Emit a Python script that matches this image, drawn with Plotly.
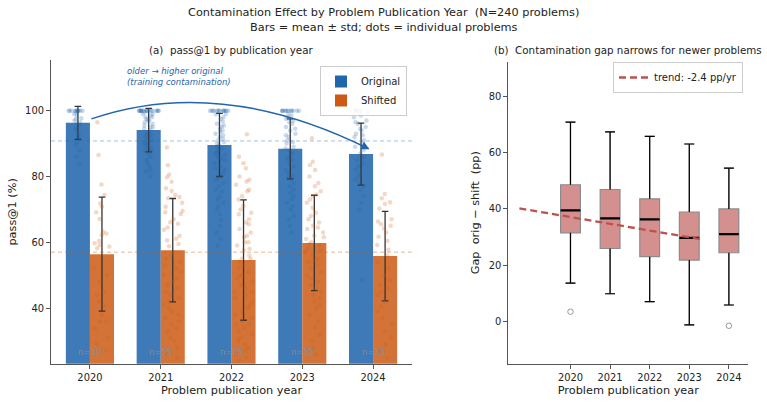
import plotly.graph_objects as go

# ---------------- data ----------------
years = [2020, 2021, 2022, 2023, 2024]
year_labels = ["2020", "2021", "2022", "2023", "2024"]
n_counts = [30, 55, 65, 55, 35]

orig_mean = [96.3, 94.1, 89.6, 88.4, 86.8]
orig_std = [5.0, 6.6, 9.6, 9.1, 9.4]
shift_mean = [56.4, 57.6, 54.6, 59.8, 55.8]
shift_std = [17.3, 15.7, 18.3, 14.5, 13.6]
orig_overall = 90.8
shift_overall = 57.0

orig_2020 = [100] * 11 + [99.5, 99, 98.5, 97.7, 97.5, 97, 96.5, 96, 95.5, 94.6, 94, 93,
                          92.5, 91.5, 90.5, 89.6, 88, 86, 83.7]
orig_2021 = [100] * 18 + [99.5, 99, 99, 98.5, 98, 98, 97.5, 97, 97, 96.5, 96, 95.5, 95, 95,
                          94.5, 94, 93.5, 93, 92.5, 92, 91.5, 91, 90.5, 90, 89.5, 89, 88.5,
                          88, 87.5, 87, 86, 85, 84, 83, 82, 81.5, 80]
orig_2022 = [100] * 14 + [99, 98.9, 98, 97.5, 96.7, 96, 95.5, 95.1, 94.5, 94, 93.5, 93, 92.5,
                          92, 91.5, 91, 90.5, 90, 89.5, 89, 88.5, 88, 87.5, 87, 86.5, 86, 85.5,
                          85, 84, 83, 82.5, 82, 81, 80, 79.5, 79, 78, 77, 76, 75.5, 74, 73, 72,
                          71, 70, 68.5, 66.8, 65, 63, 61, 59]
orig_2023 = [100] * 12 + [99, 98.5, 98, 97.5, 97, 96.5, 96, 95, 94.5, 94, 93, 92.5, 92, 91,
                          90.5, 90, 89, 88.5, 88, 87, 86, 85.5, 85, 84, 83, 82, 81, 80, 79.5,
                          79, 78, 77, 76, 75, 74, 73, 72, 71, 70, 68, 67, 65, 63]
orig_2024 = [100, 100, 100, 99.5, 98.5, 98, 97, 96.5, 96, 95, 94.5, 94, 93, 92.5, 92, 91, 90,
             89, 88, 87, 86, 85, 84, 83, 82, 81, 80, 79, 78, 77, 76, 74, 72, 70, 48.5]

shift_2020 = [96.5, 86.5, 77.6, 74.4, 71.8, 70.8, 69.1, 67.1, 63.2, 62.7, 62.2, 60.4, 59.7,
              59.2, 58.7, 58.2, 52.1, 48, 45, 42, 40.9, 38, 35.9, 33.9, 31, 29.3, 27, 50, 44, 36]
shift_2021 = [88.8, 83.4, 80.6, 79.8, 78.4, 76.4, 75.6, 74.4, 73.8, 73.4, 72, 70.8, 69.6, 69.1,
              68.6, 67, 66.1, 65.6, 64.5, 63.8, 62, 61.1, 60.6, 59.5, 58.8, 57, 56, 55, 54, 53,
              52, 51, 50, 49, 48, 47, 46, 45, 44, 43, 42, 41, 40, 39, 38, 37, 36, 35, 34, 33,
              31, 30, 28, 26, 25]
shift_2022 = [92.8, 86, 84, 82.5, 80, 79, 78.5, 77.5, 76, 75.5, 74, 73, 71, 70, 69, 68.5, 67,
              66, 65.5, 64, 63, 62, 61.5, 60, 59, 58, 57.5, 56, 55, 54, 53, 52, 51, 50, 49, 48,
              47, 46, 45, 44, 43, 42, 41, 40, 39, 38, 37, 36, 35, 34, 33, 32, 31, 30, 29, 28,
              27, 26, 25, 24, 50, 60, 45, 35, 55]
shift_2023 = [91.6, 84.5, 83.5, 82, 80, 78, 77, 75.5, 74.5, 74, 73, 72, 70.5, 69, 68, 67, 66,
              65, 64.5, 64, 63, 62, 61.5, 61, 60, 59.5, 59, 58, 57.5, 57, 56, 55, 54.5, 54, 53,
              52, 51, 50, 49, 48, 47, 46, 45, 44, 43, 42, 41, 40, 38, 36, 34, 32, 30, 28, 26]
shift_2024 = [86.7, 74.7, 73.4, 72.2, 71.6, 70.3, 67, 66.3, 65.5, 65, 64.2, 63, 61.7, 60.5,
              59.2, 57.7, 56, 54, 52, 50, 48.5, 47, 46, 44, 42, 40.5, 39, 37, 35, 33, 31, 29,
              27, 25, 45]

orig_points = [orig_2020, orig_2021, orig_2022, orig_2023, orig_2024]
shift_points = [shift_2020, shift_2021, shift_2022, shift_2023, shift_2024]

gap_q1 = [31.5, 25.9, 23.0, 21.8, 24.4]
gap_med = [39.5, 36.6, 36.3, 29.7, 31.0]
gap_q3 = [48.6, 46.9, 43.6, 38.9, 40.0]
gap_lo = [13.6, 9.8, 7.0, -1.3, 5.8]
gap_hi = [70.9, 67.4, 65.8, 63.1, 54.5]
outlier_years = [2020, 2024]
outlier_vals = [3.4, -1.6]
trend_x = [2018.71, 2023.29]
trend_y = [40.2, 29.2]

# ---------------- style ----------------
FONT = "DejaVu Sans"
BLUE = "#2166ac"
ORANGE = "#cc5a14"
AX = "#555555"
TXT = "#222222"
off = 0.17
bw = 0.34

idx = list(range(len(years)))
fig = go.Figure()

# bars
fig.add_trace(go.Bar(
    x=[i - off for i in idx], y=orig_mean, width=bw, name="Original",
    marker=dict(color=BLUE, opacity=0.87, line=dict(width=0)),
    error_y=dict(type="data", array=orig_std, color="#333333", thickness=1.3, width=3.3),
    xaxis="x", yaxis="y", legend="legend"))
fig.add_trace(go.Bar(
    x=[i + off for i in idx], y=shift_mean, width=bw, name="Shifted",
    marker=dict(color=ORANGE, opacity=0.85, line=dict(width=0)),
    error_y=dict(type="data", array=shift_std, color="#333333", thickness=1.3, width=3.3),
    xaxis="x", yaxis="y", legend="legend"))

# individual dots
def dots(points, shift, color):
    xs, ys = [], []
    for i, vals in enumerate(points):
        xs += [i + shift] * len(vals)
        ys += vals
    return go.Box(x=xs, y=ys, boxpoints="all", jitter=1, pointpos=0, width=0.28,
                  fillcolor="rgba(0,0,0,0)", line=dict(color="rgba(0,0,0,0)", width=0),
                  marker=dict(color=color, size=4.5, opacity=0.24),
                  showlegend=False, hoverinfo="skip", xaxis="x", yaxis="y")

fig.add_trace(dots(orig_points, -off, BLUE))
fig.add_trace(dots(shift_points, off, ORANGE))

# right panel boxes
fig.add_trace(go.Box(
    x=years, q1=gap_q1, median=gap_med, q3=gap_q3, lowerfence=gap_lo, upperfence=gap_hi,
    width=0.5, whiskerwidth=0.5, boxpoints=False,
    fillcolor="rgb(212,143,143)", line=dict(color="#8c8c8c", width=1.2),
    showlegend=False, hoverinfo="skip", xaxis="x2", yaxis="y2"))

wx, wy = [], []
for yr, q1, q3, lo, hi in zip(years, gap_q1, gap_q3, gap_lo, gap_hi):
    wx += [yr, yr, None, yr, yr, None, yr - 0.125, yr + 0.125, None, yr - 0.125, yr + 0.125, None]
    wy += [q1, lo, None, q3, hi, None, lo, lo, None, hi, hi, None]
fig.add_trace(go.Scatter(x=wx, y=wy, mode="lines", line=dict(color="black", width=1.2),
                         showlegend=False, hoverinfo="skip", xaxis="x2", yaxis="y2"))
mx, my = [], []
for yr, m in zip(years, gap_med):
    mx += [yr - 0.25, yr + 0.25, None]
    my += [m, m, None]
fig.add_trace(go.Scatter(x=mx, y=my, mode="lines", line=dict(color="black", width=2.2),
                         showlegend=False, hoverinfo="skip", xaxis="x2", yaxis="y2"))
fig.add_trace(go.Scatter(x=outlier_years, y=outlier_vals, mode="markers",
                         marker=dict(symbol="circle-open", color="#999999", size=5.5,
                                     line=dict(width=1)),
                         showlegend=False, hoverinfo="skip", xaxis="x2", yaxis="y2"))
fig.add_trace(go.Scatter(x=trend_x, y=trend_y, mode="lines", name="trend: -2.4 pp/yr",
                         line=dict(color="#c0504d", width=2.3, dash="7px,4px"),
                         xaxis="x2", yaxis="y2", legend="legend2"))

# reference lines
shapes = [
    dict(type="line", xref="x domain", yref="y", x0=0, x1=1, y0=orig_overall, y1=orig_overall,
         line=dict(color="rgba(33,102,172,0.45)", width=0.9, dash="4px,3px"), layer="above"),
    dict(type="line", xref="x domain", yref="y", x0=0, x1=1, y0=shift_overall, y1=shift_overall,
         line=dict(color="rgba(204,90,20,0.5)", width=0.9, dash="4px,3px"), layer="above"),
    dict(type="path", xref="x", yref="y", path="M 0.02,97.5 Q 1.83,110.9 3.93,88.5",
         line=dict(color=BLUE, width=1.5), layer="above"),
]

annotations = [
    dict(xref="paper", yref="paper", x=0.5, y=1 - 12.5 / 404, xanchor="center", yanchor="middle",
         text="Contamination Effect by Problem Publication Year\u00a0 (N=240 problems)",
         showarrow=False, font=dict(family=FONT, size=11.3, color=TXT)),
    dict(xref="paper", yref="paper", x=0.5, y=1 - 27.5 / 404, xanchor="center", yanchor="middle",
         text="Bars = mean ± std; dots = individual problems",
         showarrow=False, font=dict(family=FONT, size=11.3, color=TXT)),
    dict(xref="paper", yref="paper", x=231.5 / 767, y=1 - 50 / 404, xanchor="center",
         yanchor="middle", text="(a)\u00a0 pass@1 by publication year", showarrow=False,
         font=dict(family=FONT, size=10.3, color=TXT)),
    dict(xref="paper", yref="paper", x=628.3 / 767, y=1 - 50 / 404, xanchor="center",
         yanchor="middle", text="(b)\u00a0 Contamination gap narrows for newer problems",
         showarrow=False, font=dict(family=FONT, size=10.3, color=TXT)),
    dict(xref="paper", yref="paper", x=125 / 767, y=1 - 64 / 404, xanchor="left", yanchor="top",
         align="left", text="<i>older → higher original<br>(training contamination)</i>",
         showarrow=False, font=dict(family=FONT, size=8.5, color=BLUE)),
    dict(xref="x", yref="y", x=3.95, y=88.3, ax=-9, ay=-4.5, axref="pixel", ayref="pixel",
         text="", showarrow=True, arrowhead=2, arrowsize=1.1, arrowwidth=1.5, arrowcolor=BLUE),
]
for i, n in enumerate(n_counts):
    annotations.append(dict(xref="x", yref="y", x=i, y=26.7, text=f"n={n}", showarrow=False,
                            font=dict(family=FONT, size=8.5, color="rgba(140,140,140,0.95)")))

axis_common = dict(showline=True, linecolor=AX, linewidth=1.1, ticks="outside", ticklen=4,
                   tickcolor=AX, showgrid=False, zeroline=False,
                   tickfont=dict(family=FONT, size=9.9, color=TXT))

fig.update_layout(
    width=767, height=404, margin=dict(l=0, r=0, t=0, b=0),
    paper_bgcolor="white", plot_bgcolor="white", barmode="overlay", boxmode="overlay",
    font=dict(family=FONT, color=TXT),
    xaxis=dict(domain=[51 / 767, 412 / 767], range=[-0.55, 4.55], tickvals=idx,
               ticktext=year_labels, anchor="y",
               title=dict(text="Problem publication year", font=dict(size=11.3), standoff=4),
               **axis_common),
    yaxis=dict(domain=[1 - 363.7 / 404, 1 - 60 / 404], range=[23.1, 115.4],
               tickvals=[40, 60, 80, 100], anchor="x",
               title=dict(text="pass@1 (%)", font=dict(size=11.3), standoff=6), **axis_common),
    xaxis2=dict(domain=[508.3 / 767, 748.3 / 767], range=[2018.43, 2024.49], tickvals=years,
                ticktext=year_labels, anchor="y2",
                title=dict(text="Problem publication year", font=dict(size=11.3), standoff=4),
                **axis_common),
    yaxis2=dict(domain=[1 - 363.7 / 404, 1 - 61.7 / 404], range=[-15.1, 92.4],
                tickvals=[0, 20, 40, 60, 80], anchor="x2",
                title=dict(text="Gap\u00a0 orig − shift\u00a0 (pp)", font=dict(size=11.3),
                           standoff=6), **axis_common),
    legend=dict(x=407 / 767, y=1 - 66 / 404, xanchor="right", yanchor="top",
                bgcolor="rgba(255,255,255,0.85)", bordercolor="#cccccc", borderwidth=1,
                font=dict(family=FONT, size=10, color=TXT), tracegroupgap=0,
                itemwidth=30),
    legend2=dict(x=743 / 767, y=1 - 62 / 404, xanchor="right", yanchor="top",
                 bgcolor="rgba(255,255,255,0.85)", bordercolor="#cccccc", borderwidth=1,
                 font=dict(family=FONT, size=10, color=TXT), itemwidth=30),
    shapes=shapes, annotations=annotations,
)

fig.write_html("out.html")
